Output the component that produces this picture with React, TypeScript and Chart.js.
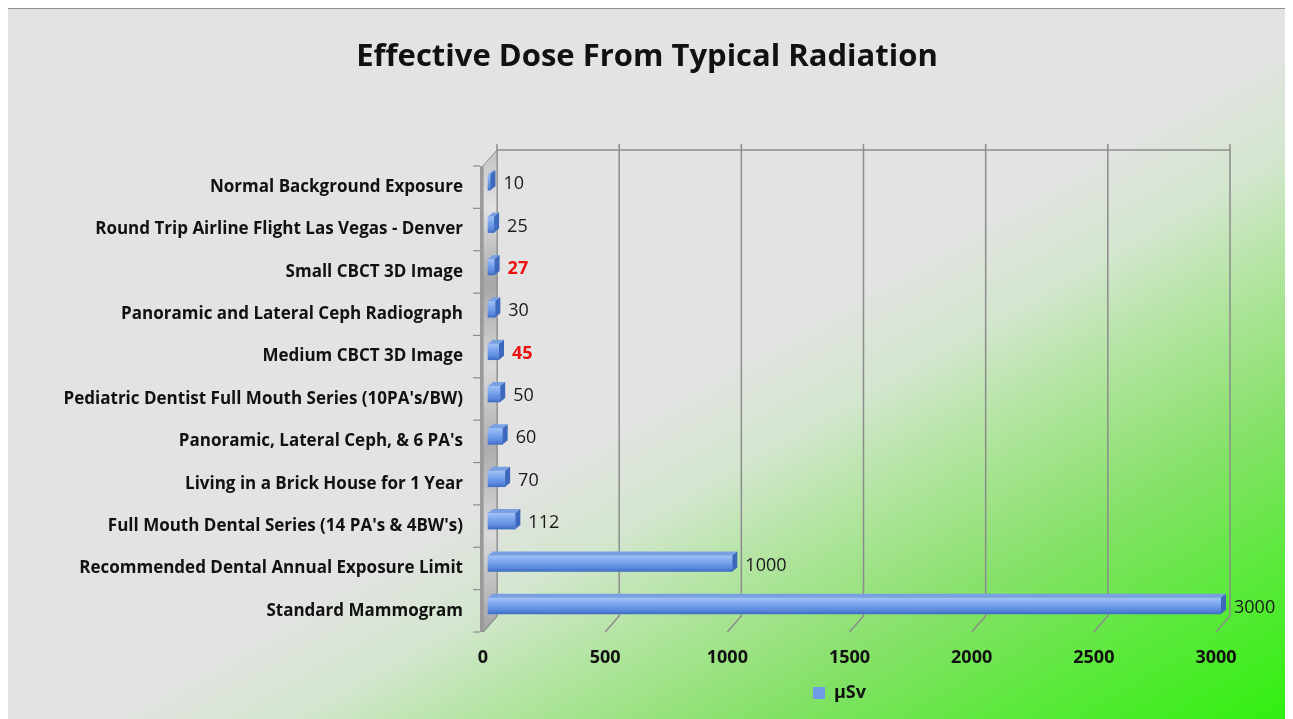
import React, { useEffect, useRef } from 'react';
import { Chart, registerables } from 'chart.js';

Chart.register(...registerables);

const chartTitle = 'Effective Dose From Typical Radiation';
const seriesLabel = 'µSv';
const categories = [
  'Normal Background Exposure',
  'Round Trip Airline Flight Las Vegas - Denver',
  'Small CBCT 3D Image',
  'Panoramic and Lateral Ceph Radiograph',
  'Medium CBCT 3D Image',
  "Pediatric Dentist Full Mouth Series (10PA's/BW)",
  "Panoramic, Lateral Ceph, & 6 PA's",
  'Living in a Brick House for 1 Year',
  "Full Mouth Dental Series (14 PA's & 4BW's)",
  'Recommended Dental Annual Exposure Limit',
  'Standard Mammogram',
];
const doseValues = [10, 25, 27, 30, 45, 50, 60, 70, 112, 1000, 3000];
const highlightedCategories = ['Small CBCT 3D Image', 'Medium CBCT 3D Image'];
const xTickValues = [0, 500, 1000, 1500, 2000, 2500, 3000];

const FONT = "'Open Sans', 'DejaVu Sans', sans-serif";
const W = 1278;
const H = 728;

// 3D geometry offsets (pixels)
const BACK_DX = 14;
const BACK_DY = -16;
const BAR_DX = 5;
const BAR_DY = -5;
const CAP_DX = 5;
const CAP_DY = -4;

const threeD = {
  id: 'threeD',
  afterLayout(chart: any) {
    const ca = chart.chartArea;
    if (chart.titleBlock) {
      chart.titleBlock.left = 0;
      chart.titleBlock.right = W;
      chart.titleBlock.width = W;
    }
    if (chart.legend) {
      chart.legend.left = ca.left;
      chart.legend.right = ca.right - 20;
      chart.legend.width = ca.right - 20 - ca.left;
    }
  },
  beforeDatasetsDraw(chart: any) {
    const { ctx, chartArea } = chart;
    const xs = chart.scales.x;
    const { left, top, bottom } = chartArea;
    ctx.save();
    // back grid lines + floor diagonals + top ticks
    ctx.strokeStyle = '#8c8c8c';
    ctx.lineWidth = 1.5;
    xTickValues.forEach((v) => {
      const fx = xs.getPixelForValue(v);
      const bx = fx + BACK_DX;
      ctx.beginPath();
      ctx.moveTo(bx, top + BACK_DY - 6);
      ctx.lineTo(bx, bottom + BACK_DY);
      ctx.lineTo(fx, bottom);
      ctx.stroke();
    });
    // top back line
    ctx.beginPath();
    ctx.moveTo(left + BACK_DX, top + BACK_DY);
    ctx.lineTo(xs.getPixelForValue(3000) + BACK_DX, top + BACK_DY);
    ctx.stroke();

    // left wall
    const g = ctx.createLinearGradient(0, top + BACK_DY, 0, bottom);
    g.addColorStop(0, '#c4c4c4');
    g.addColorStop(0.12, '#e2e2e2');
    g.addColorStop(0.28, '#a6a6a6');
    g.addColorStop(0.45, '#d9d9d9');
    g.addColorStop(0.62, '#adadad');
    g.addColorStop(0.8, '#dadada');
    g.addColorStop(1, '#a4a4a4');
    ctx.fillStyle = g;
    ctx.beginPath();
    ctx.moveTo(left, top);
    ctx.lineTo(left + BACK_DX, top + BACK_DY);
    ctx.lineTo(left + BACK_DX, bottom + BACK_DY);
    ctx.lineTo(left, bottom);
    ctx.closePath();
    ctx.fill();
    ctx.strokeStyle = '#8a8a8a';
    ctx.lineWidth = 1;
    ctx.stroke();
    // front edge of wall
    ctx.fillStyle = '#9a9a9a';
    ctx.fillRect(left - 3, top, 3, bottom - top);
    // category ticks on the left of the wall
    ctx.strokeStyle = '#8c8c8c';
    ctx.lineWidth = 1.2;
    const n = categories.length;
    const step = (bottom - top) / n;
    for (let i = 0; i <= n; i++) {
      const y = top + i * step;
      ctx.beginPath();
      ctx.moveTo(left - 10, y);
      ctx.lineTo(left - 3, y);
      ctx.stroke();
    }
    ctx.restore();
    ctx.save();
    ctx.translate(BAR_DX, BAR_DY);
  },
  afterDatasetsDraw(chart: any) {
    const { ctx } = chart;
    const meta = chart.getDatasetMeta(0);
    meta.data.forEach((bar: any, i: number) => {
      const x0 = bar.base;
      const x1 = bar.x;
      const yT = bar.y - bar.height / 2;
      const yB = bar.y + bar.height / 2;
      // top face
      ctx.fillStyle = '#7aa0e4';
      ctx.beginPath();
      ctx.moveTo(x0, yT);
      ctx.lineTo(x1, yT);
      ctx.lineTo(x1 + CAP_DX, yT + CAP_DY);
      ctx.lineTo(x0 + CAP_DX, yT + CAP_DY);
      ctx.closePath();
      ctx.fill();
      // right face
      ctx.fillStyle = '#3c68bd';
      ctx.beginPath();
      ctx.moveTo(x1, yT);
      ctx.lineTo(x1 + CAP_DX, yT + CAP_DY);
      ctx.lineTo(x1 + CAP_DX, yB + CAP_DY);
      ctx.lineTo(x1, yB);
      ctx.closePath();
      ctx.fill();
      // value label
      const hl = highlightedCategories.includes(categories[i]);
      ctx.font = `${hl ? 'bold ' : ''}18px ${FONT}`;
      ctx.fillStyle = hl ? '#ee1111' : '#1a1a1a';
      ctx.textAlign = 'left';
      ctx.textBaseline = 'middle';
      ctx.fillText(String(doseValues[i]), x1 + CAP_DX + 8, bar.y + 2);
    });
    ctx.restore();
  },
};

function barFill(c: any) {
  const chart = c.chart;
  const ys = chart.scales && chart.scales.y;
  if (c.type !== 'data' || !ys || !chart.chartArea) return '#6f9be6';
  const cy = ys.getPixelForValue(c.dataIndex);
  const g = chart.ctx.createLinearGradient(0, cy - 8, 0, cy + 8);
  g.addColorStop(0, '#a3c2f5');
  g.addColorStop(0.35, '#7ea8ef');
  g.addColorStop(0.75, '#5d8ce0');
  g.addColorStop(1, '#3f6ec6');
  return g;
}

export default function App() {
  const ref = useRef<HTMLCanvasElement | null>(null);
  useEffect(() => {
    if (!ref.current) return;
    const chart = new Chart(ref.current, {
      type: 'bar',
      data: {
        labels: categories,
        datasets: [
          {
            label: seriesLabel,
            data: doseValues,
            backgroundColor: barFill as any,
            borderWidth: 0,
            barThickness: 16,
            clip: false as any,
          },
        ],
      },
      options: {
        indexAxis: 'y',
        responsive: false,
        animation: false,
        devicePixelRatio: 1,
        layout: { padding: { top: 0, right: 70, bottom: 25, left: 0 } },
        scales: {
          x: {
            min: 0,
            max: 3000,
            afterBuildTicks: (s: any) => {
              s.ticks = xTickValues.map((v) => ({ value: v }));
            },
            afterFit: (s: any) => {
              s.height = 42;
            },
            grid: { display: false, drawTicks: false },
            border: { display: false },
            ticks: {
              padding: 15,
              color: '#111',
              font: { family: FONT, size: 18, weight: 'bold' },
              maxRotation: 0,
              callback: (v: any) => String(v),
            },
          },
          y: {
            afterFit: (s: any) => {
              s.width = 475;
            },
            grid: { display: false, drawTicks: false },
            border: { display: false },
            ticks: {
              padding: 20,
              color: '#111',
              font: { family: FONT, size: 17, weight: 'bold' },
              autoSkip: false,
            },
          },
        },
        plugins: {
          title: {
            display: true,
            text: chartTitle,
            color: '#111',
            font: { family: FONT, size: 31, weight: 'bold' },
            padding: { top: 30, bottom: 89.8 },
          },
          legend: {
            position: 'bottom',
            labels: {
              boxWidth: 12,
              boxHeight: 12,
              color: '#111',
              font: { family: FONT, size: 18, weight: 'bold' },
              generateLabels: (ch: any) =>
                Chart.defaults.plugins.legend.labels.generateLabels(ch).map((l: any) => ({
                  ...l,
                  fillStyle: '#6f9be6',
                  strokeStyle: '#6f9be6',
                  lineWidth: 0,
                })),
            },
          },
          tooltip: { enabled: false },
        },
      } as any,
      plugins: [threeD],
    });
    return () => chart.destroy();
  }, []);

  return (
    <div
      style={{
        position: 'relative',
        width: W,
        height: H,
        marginLeft: -1,
        border: '1px solid #8e8e8e',
        background:
          'linear-gradient(to bottom right, #e3e3e3 0%, #e3e3e3 52%, #d3e6ce 60%, #b0e49d 68%, #85e168 78%, #5ae93a 88%, #2cf00a 100%)',
      }}
    >
      <canvas ref={ref} width={W} height={H} style={{ display: 'block' }} />
    </div>
  );
}
